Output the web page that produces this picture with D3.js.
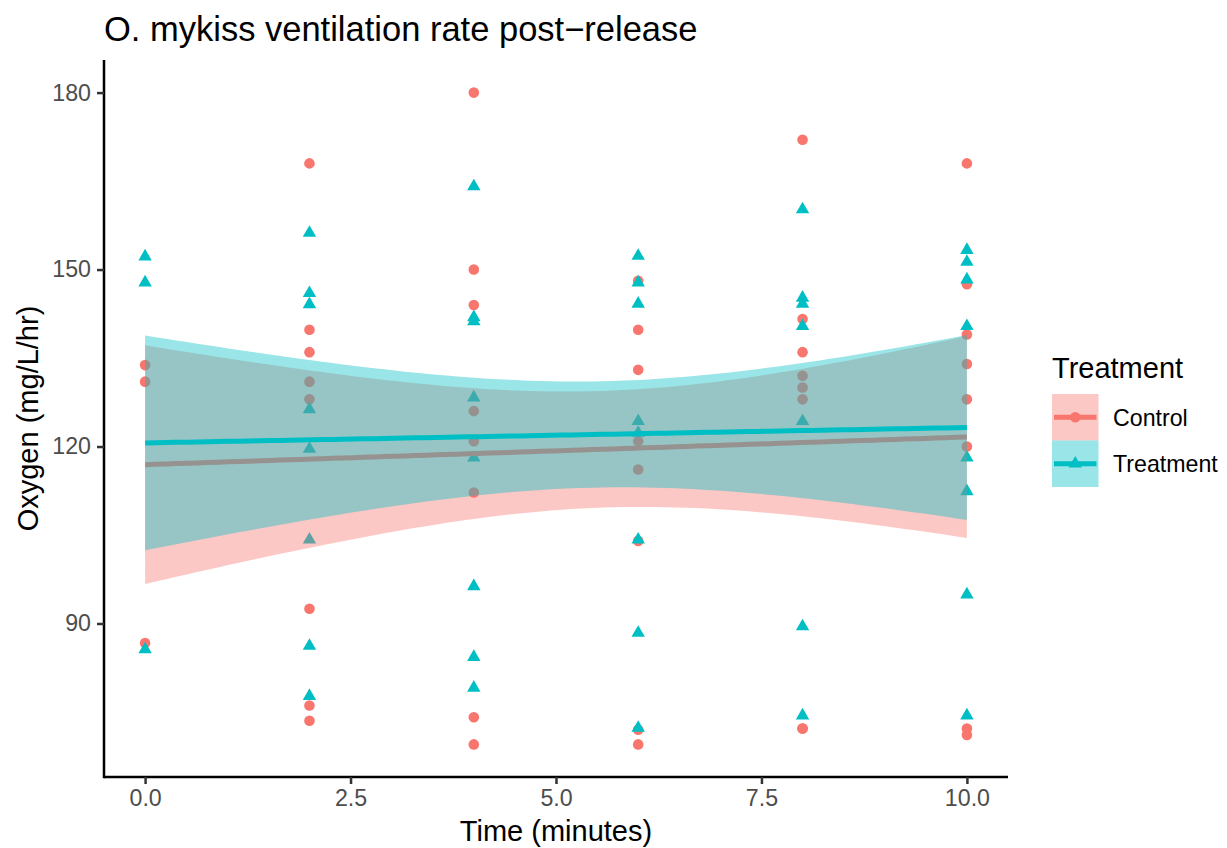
<!DOCTYPE html>
<html>
<head>
<meta charset="utf-8">
<script src="https://cdn.jsdelivr.net/npm/d3@7"></script>
<style>
  body { margin: 0; background: #fff; }
  text { font-family: "Liberation Sans", Arial, sans-serif; }
</style>
</head>
<body>
<div id="chart"></div>
<script>
// chart data
const groups = ["Control", "Treatment"];
const groupColors = ["#F8766D", "#00BFC4"];

const controlTime = [0, 0, 0,
  2, 2, 2, 2, 2, 2, 2, 2,
  4, 4, 4, 4, 4, 4, 4, 4,
  6, 6, 6, 6, 6, 6, 6, 6,
  8, 8, 8, 8, 8, 8, 8, 8,
  10, 10, 10, 10, 10, 10, 10, 10];
const controlOxygen = [133.8, 131.0, 86.7,
  168.0, 139.8, 136.0, 131.0, 128.0, 92.5, 76.1, 73.5,
  180.0, 150.0, 144.0, 126.0, 120.9, 112.2, 74.1, 69.5,
  148.1, 139.8, 133.0, 120.9, 116.1, 104.0, 72.0, 69.5,
  172.0, 141.6, 136.0, 132.0, 130.0, 128.0, 72.2, 72.2,
  168.0, 147.5, 139.0, 134.0, 128.0, 120.0, 72.2, 71.1];

const treatmentTime = [0, 0, 0,
  2, 2, 2, 2, 2, 2, 2, 2,
  4, 4, 4, 4, 4, 4, 4, 4,
  6, 6, 6, 6, 6, 6, 6, 6,
  8, 8, 8, 8, 8, 8, 8,
  10, 10, 10, 10, 10, 10, 10, 10];
const treatmentOxygen = [152.2, 147.8, 85.6,
  156.2, 146.0, 144.1, 126.3, 119.6, 104.2, 86.2, 77.7,
  164.1, 141.9, 141.2, 128.3, 118.1, 96.3, 84.3, 79.1,
  152.3, 147.8, 144.2, 124.3, 122.3, 104.2, 88.4, 72.3,
  160.2, 145.2, 144.2, 140.4, 124.3, 89.5, 74.4,
  153.3, 151.3, 148.3, 140.4, 118.1, 112.4, 94.9, 74.4];

const xTicks = [0, 2.5, 5, 7.5, 10];
const yTicks = [90, 120, 150, 180];

// sizes
const width = 1227;
const height = 848;
const panel = {left: 104, right: 1008, top: 60, bottom: 777};

const svg = d3.select("#chart")
  .append("svg")
  .attr("width", width)
  .attr("height", height);

// linear model with 95% confidence band (like geom_smooth(method = "lm"))
function lmBand(xs, ys) {
  const n = xs.length;
  const mx = d3.mean(xs), my = d3.mean(ys);
  let sxx = 0, sxy = 0;
  for (let i = 0; i < n; i++) {
    sxx += (xs[i] - mx) ** 2;
    sxy += (xs[i] - mx) * (ys[i] - my);
  }
  const b = sxy / sxx, a = my - b * mx;
  let sse = 0;
  for (let i = 0; i < n; i++) sse += (ys[i] - a - b * xs[i]) ** 2;
  const df = n - 2;
  const s = Math.sqrt(sse / df);
  const z = 1.959964;
  const t = z + (z ** 3 + z) / (4 * df) + (5 * z ** 5 + 16 * z ** 3 + 3 * z) / (96 * df * df);
  const [x0, x1] = d3.extent(xs);
  return d3.range(80).map(i => {
    const x = x0 + (x1 - x0) * i / 79;
    const fit = a + b * x;
    const se = s * Math.sqrt(1 / n + (x - mx) ** 2 / sxx);
    return {x: x, fit: fit, lo: fit - t * se, hi: fit + t * se};
  });
}

const series = [
  {name: groups[0], color: groupColors[0], time: controlTime, oxy: controlOxygen, shape: "circle"},
  {name: groups[1], color: groupColors[1], time: treatmentTime, oxy: treatmentOxygen, shape: "triangle"}
];
series.forEach(s => { s.band = lmBand(s.time, s.oxy); });

// scales, with ggplot's 5% expansion
const allX = controlTime.concat(treatmentTime);
const allY = controlOxygen.concat(treatmentOxygen,
  ...series.map(s => s.band.map(d => d.lo)),
  ...series.map(s => s.band.map(d => d.hi)));
const [xMin, xMax] = d3.extent(allX);
const [yMin, yMax] = d3.extent(allY);
const xPad = (xMax - xMin) * 0.05, yPad = (yMax - yMin) * 0.05;

const xScale = d3.scaleLinear()
  .domain([xMin - xPad, xMax + xPad])
  .range([panel.left, panel.right]);
const yScale = d3.scaleLinear()
  .domain([yMin - yPad, yMax + yPad])
  .range([panel.bottom, panel.top]);

// points
const symCircle = d3.symbol().type(d3.symbolCircle).size(Math.PI * 5.3 * 5.3);
const symTriangle = d3.symbol().type(d3.symbolTriangle).size(78);

series.forEach(s => {
  svg.append("g")
    .selectAll("path")
    .data(s.time.map((t, i) => ({t: t, y: s.oxy[i]})))
    .enter()
    .append("path")
      .attr("d", s.shape === "circle" ? symCircle() : symTriangle())
      .attr("transform", d => `translate(${xScale(d.t)},${yScale(d.y)})`)
      .attr("fill", s.color);
});

// smooth: ribbon then line, group by group
const area = d3.area()
  .x(d => xScale(d.x))
  .y0(d => yScale(d.lo))
  .y1(d => yScale(d.hi));
const line = d3.line()
  .x(d => xScale(d.x))
  .y(d => yScale(d.fit));

series.forEach(s => {
  svg.append("path")
    .attr("d", area(s.band))
    .attr("fill", s.color)
    .attr("fill-opacity", 0.4);
  svg.append("path")
    .attr("d", line(s.band))
    .attr("fill", "none")
    .attr("stroke", s.color)
    .attr("stroke-width", 5);
});

// axes
const xAxis = svg.append("g")
  .attr("transform", `translate(0,${panel.bottom})`)
  .call(d3.axisBottom(xScale).tickValues(xTicks).tickFormat(d3.format(".1f")).tickSizeInner(7).tickSizeOuter(0).tickPadding(6));
const yAxis = svg.append("g")
  .attr("transform", `translate(${panel.left},0)`)
  .call(d3.axisLeft(yScale).tickValues(yTicks).tickSizeInner(7).tickSizeOuter(0).tickPadding(6));

[xAxis, yAxis].forEach(ax => {
  ax.select(".domain").attr("stroke", "#000").attr("stroke-width", 2.5);
  ax.selectAll(".tick line").attr("stroke", "#333").attr("stroke-width", 2.5);
  ax.selectAll(".tick text")
    .attr("fill", "#4D4D4D")
    .style("font-size", "23.2px")
    .style("font-family", '"Liberation Sans", Arial, sans-serif');
});
// stretch axis lines across the panel
xAxis.select(".domain").attr("d", `M${panel.left},0H${panel.right}`);
yAxis.select(".domain").attr("d", `M0,${panel.bottom + 1.25}V${panel.top}`);

// titles
svg.append("text")
  .attr("x", panel.left)
  .attr("y", 41)
  .style("font-size", "34.5px")
  .text("O. mykiss ventilation rate post\u2212release");

svg.append("text")
  .attr("x", (panel.left + panel.right) / 2)
  .attr("y", 841)
  .attr("text-anchor", "middle")
  .style("font-size", "29px")
  .text("Time (minutes)");

svg.append("text")
  .attr("transform", `translate(38,${(panel.top + panel.bottom) / 2}) rotate(-90)`)
  .attr("text-anchor", "middle")
  .style("font-size", "29px")
  .text("Oxygen (mg/L/hr)");

// legend
const legend = svg.append("g").attr("transform", "translate(1052,0)");
legend.append("text")
  .attr("x", 0)
  .attr("y", 378)
  .style("font-size", "29px")
  .text("Treatment");

const keySize = 46.5;
series.forEach((s, i) => {
  const y0 = 394 + i * keySize;
  legend.append("rect")
    .attr("x", 0).attr("y", y0)
    .attr("width", keySize).attr("height", keySize)
    .attr("fill", s.color).attr("fill-opacity", 0.4);
  legend.append("line")
    .attr("x1", 2).attr("x2", keySize - 2)
    .attr("y1", y0 + keySize / 2).attr("y2", y0 + keySize / 2)
    .attr("stroke", s.color).attr("stroke-width", 5);
  legend.append("path")
    .attr("d", s.shape === "circle" ? symCircle() : symTriangle())
    .attr("transform", `translate(${keySize / 2},${y0 + keySize / 2})`)
    .attr("fill", s.color);
  legend.append("text")
    .attr("x", 61)
    .attr("y", y0 + keySize / 2 + 8.3)
    .style("font-size", "23.2px")
    .text(s.name);
});
</script>
</body>
</html>
